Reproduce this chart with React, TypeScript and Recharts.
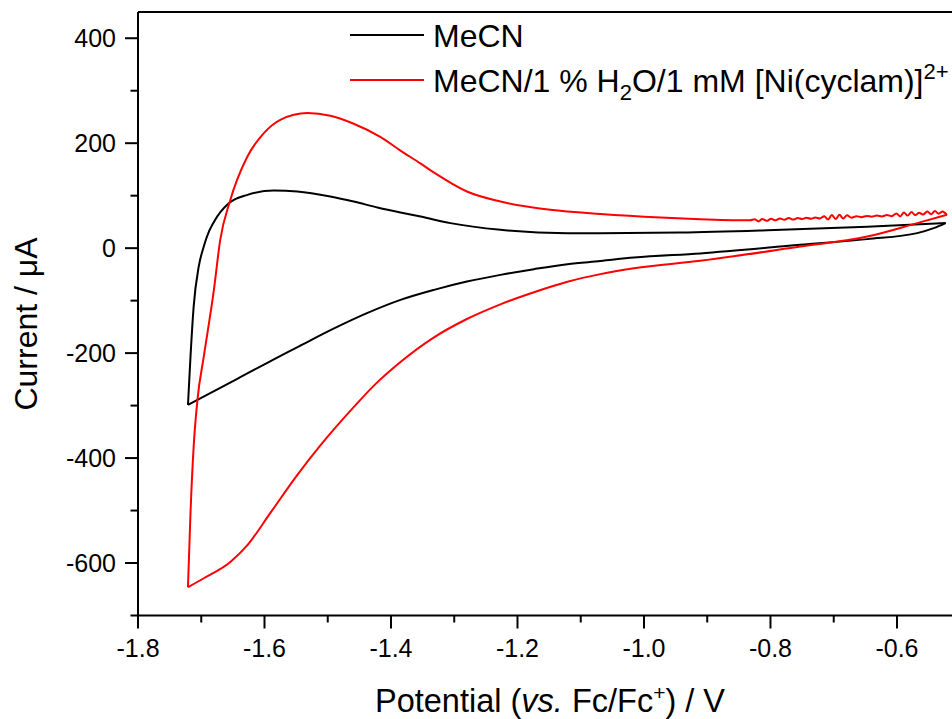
import React from 'react';
import { LineChart, Line, XAxis, YAxis, ReferenceLine, Customized } from 'recharts';

const FONT = '"Liberation Sans", Arial, sans-serif';

// MeCN: cathodic sweep (from -0.52 V down to the -1.72 V vertex)
const blackCathodicV = [
  -0.523, -0.542, -0.568, -0.647, -0.753, -0.911, -1.016, -1.069, -1.121, -1.174, -1.227, -1.28,
  -1.332, -1.385, -1.438, -1.49, -1.543, -1.564, -1.643, -1.721,
];
const blackCathodicI = [
  47.7, 38.1, 28.6, 17.2, 6.3, -10, -17.9, -24.5, -30.5, -40, -50.9, -63.7,
  -79.5, -98.6, -123.9, -153, -185.5, -198.5, -249, -298.8,
];
// MeCN: anodic sweep (vertex back to -0.52 V)
const blackAnodicV = [
  -1.721, -1.717, -1.712, -1.704, -1.696, -1.691, -1.68, -1.656, -1.627, -1.585, -1.548, -1.496,
  -1.459, -1.42, -1.385, -1.353, -1.306, -1.227, -1.121, -1.069, -0.942, -0.805, -0.647, -0.523,
];
const blackAnodicI = [
  -298.8, -206.7, -111.3, -35.1, 3.1, 22.1, 50, 86, 101.6, 109.8, 107.9, 98.4,
  88.8, 77, 67.9, 60.2, 47.7, 34.9, 28.6, 28.6, 29.7, 34, 41, 47.7,
];

// MeCN / 1 % H2O / 1 mM [Ni(cyclam)]2+: cathodic sweep
const redCathodicV = [
  -0.521, -0.568, -0.647, -0.753, -0.911, -1.016, -1.069, -1.121, -1.174, -1.227, -1.28, -1.332,
  -1.385, -1.427, -1.459, -1.511, -1.548, -1.591, -1.627, -1.654, -1.696, -1.721,
];
const redCathodicI = [
  63.5, 47.7, 22.1, 3.1, -24, -38.5, -49.5, -64, -84, -107, -135, -170,
  -217, -262, -303, -375, -432, -505, -566, -598, -629, -646,
];
// anodic sweep (vertex back to -0.52 V, with the noisy tail)
const redAnodicV = [
  -1.721, -1.717, -1.712, -1.706, -1.696, -1.68, -1.67, -1.655, -1.627, -1.601, -1.575, -1.532,
  -1.496, -1.459, -1.417, -1.385, -1.353, -1.332, -1.28, -1.227, -1.148, -1.069, -0.974, -0.911,
  -0.832, -0.825, -0.819, -0.813, -0.806, -0.799, -0.792, -0.785, -0.778, -0.771, -0.764, -0.757,
  -0.75, -0.743, -0.736, -0.729, -0.722, -0.715, -0.709, -0.703, -0.697, -0.691, -0.685, -0.679,
  -0.672, -0.664, -0.656, -0.648, -0.64, -0.632, -0.624, -0.616, -0.608, -0.601, -0.595, -0.589,
  -0.583, -0.577, -0.571, -0.565, -0.559, -0.552, -0.546, -0.54, -0.534, -0.528, -0.523, -0.521,
];
const redAnodicI = [
  -646, -504.7, -378.3, -289, -206.7, -79.5, 15.8, 88, 174.6, 219.3, 244.6, 257.4,
  252.2, 237, 212, 186, 161, 144, 107.9, 88.8, 73, 65, 58.3, 55.3,
  53, 55, 51, 55.5, 52, 56, 53, 56.5, 54, 57.5, 54.5, 57.5,
  55.5, 58, 56, 58.5, 56.5, 61, 54.5, 63, 55.5, 63.5, 56.5, 62.5,
  58, 61, 59, 61.5, 60, 62, 60.5, 63, 61, 66, 60.5, 68,
  62, 69, 63, 67.5, 64, 70, 64.5, 71, 65.5, 70, 66, 63.5,
];

const xTicks = [-1.8, -1.7, -1.6, -1.5, -1.4, -1.3, -1.2, -1.1, -1.0, -0.9, -0.8, -0.7, -0.6];
const yTicks = [-700, -600, -500, -400, -300, -200, -100, 0, 100, 200, 300, 400];

const seriesNames = ['MeCN', 'MeCN/1 % H2O/1 mM [Ni(cyclam)]2+'];

const toData = (vs: number[], is: number[]) => vs.map((v, k) => ({ v, i: is[k] }));
const blackCathodic = toData(blackCathodicV, blackCathodicI);
const blackAnodic = toData(blackAnodicV, blackAnodicI);
const redCathodic = toData(redCathodicV, redCathodicI);
const redAnodic = toData(redAnodicV, redAnodicI);

const XTick = (props: any) => {
  const { x, y, payload } = props;
  const val = payload.value;
  const major = Math.round(val * 10) % 2 === 0;
  return (
    <g>
      <line x1={x} x2={x} y1={y} y2={y + (major ? 13 : 7)} stroke="#000" strokeWidth={2} />
      {major && (
        <text x={x} y={y + 41} textAnchor="middle" fontFamily={FONT} fontSize={25} fill="#000">
          {val.toFixed(1)}
        </text>
      )}
    </g>
  );
};

const YTick = (props: any) => {
  const { x, y, payload } = props;
  const val = payload.value;
  const major = val % 200 === 0;
  return (
    <g>
      <line x1={x} x2={x - (major ? 13 : 7.5)} y1={y} y2={y} stroke="#000" strokeWidth={2} />
      {major && (
        <text x={x - 22} y={y} dy="0.36em" textAnchor="end" fontFamily={FONT} fontSize={25} fill="#000">
          {val}
        </text>
      )}
    </g>
  );
};

const Decorations = () => (
  <g fontFamily={FONT} fill="#000">
    <line x1={350} x2={424} y1={35} y2={35} stroke="#000" strokeWidth={2} />
    <text x={433} y={47} fontSize={32}>{seriesNames[0]}</text>
    <line x1={350} x2={424} y1={80} y2={80} stroke="#ff0000" strokeWidth={2} />
    <text x={433} y={92} fontSize={32}>
      MeCN/1 % H
      <tspan fontSize={22} dy={8}>2</tspan>
      <tspan dy={-8}>O/1 mM [Ni(cyclam)]</tspan>
      <tspan fontSize={22} dy={-13}>2+</tspan>
    </text>
    <text x={550} y={712} fontSize={32.5} textAnchor="middle">
      Potential (<tspan fontStyle="italic">vs.</tspan> Fc/Fc
      <tspan fontSize={21} dy={-12}>+</tspan>
      <tspan dy={12}>) / V</tspan>
    </text>
    <text transform="rotate(-90)" x={-324} y={37} fontSize={32} textAnchor="middle">
      Current / μA
    </text>
  </g>
);

const lineProps = {
  dataKey: 'i',
  type: 'monotoneX' as const,
  strokeWidth: 2,
  dot: false,
  activeDot: false,
  isAnimationActive: false,
};

export default function App() {
  return (
    <div style={{ position: 'absolute', left: 0, top: 0, background: '#fff' }}>
      <LineChart width={952} height={719} margin={{ top: 12, right: 0, bottom: 0, left: 0 }}>
        <XAxis
          type="number"
          dataKey="v"
          domain={[-1.8, -0.513]}
          allowDataOverflow
          ticks={xTicks}
          interval={0}
          tickSize={0}
          tickMargin={0}
          tickLine={false}
          tick={<XTick />}
          height={103.5}
          axisLine={{ stroke: '#000', strokeWidth: 2 }}
        />
        <YAxis
          type="number"
          dataKey="i"
          domain={[-700, 450]}
          allowDataOverflow
          ticks={yTicks}
          interval={0}
          tickSize={0}
          tickMargin={0}
          tickLine={false}
          tick={<YTick />}
          width={138}
          axisLine={{ stroke: '#000', strokeWidth: 2 }}
        />
        <ReferenceLine y={450} stroke="#000" strokeWidth={2} />
        <Line {...lineProps} data={blackCathodic} name={seriesNames[0]} stroke="#000" />
        <Line {...lineProps} data={blackAnodic} name={seriesNames[0] + ' '} stroke="#000" />
        <Line {...lineProps} data={redCathodic} name={seriesNames[1]} stroke="#ff0000" />
        <Line {...lineProps} data={redAnodic} name={seriesNames[1] + ' '} stroke="#ff0000" />
        <Customized component={Decorations} />
      </LineChart>
    </div>
  );
}
